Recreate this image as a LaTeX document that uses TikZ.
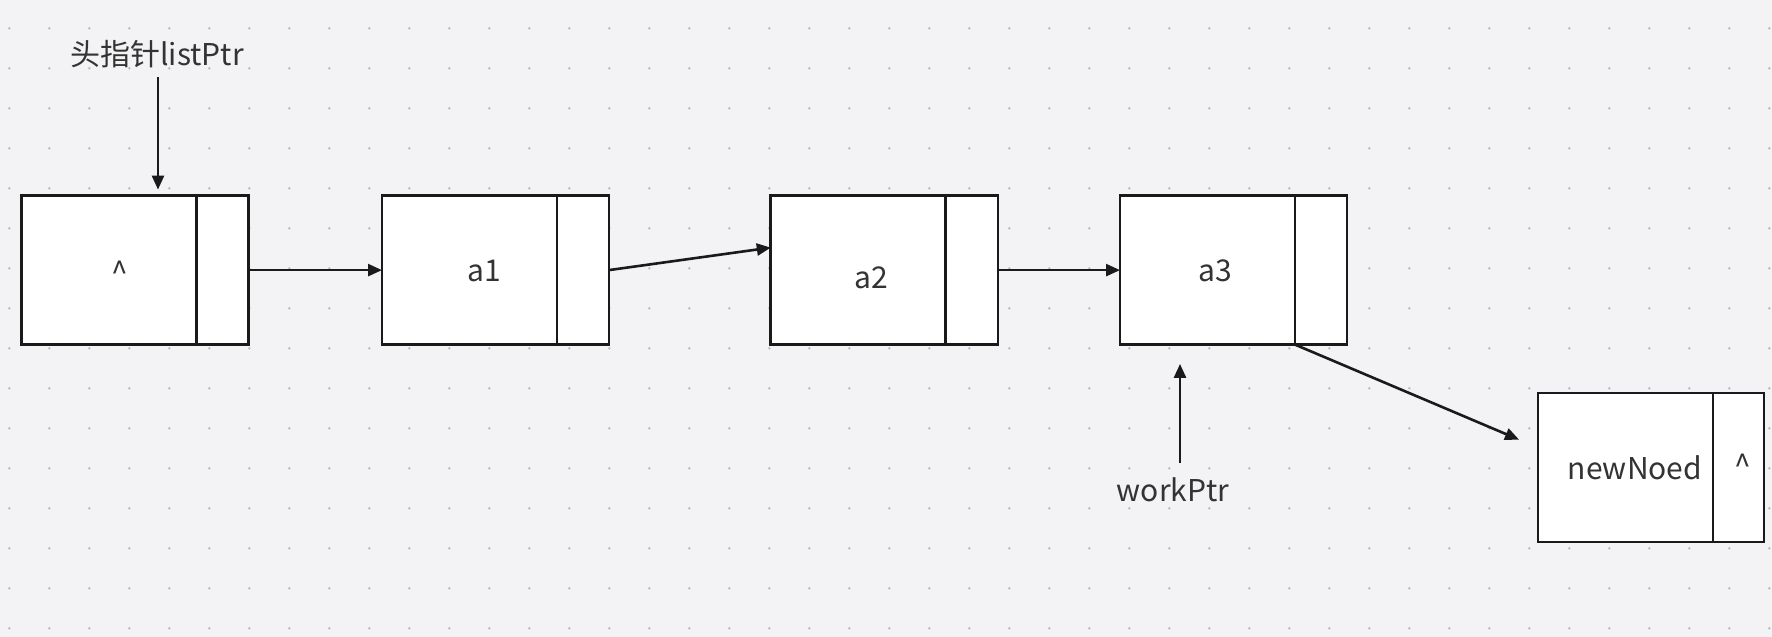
\documentclass[tikz,border=0pt]{standalone}
\usepackage{fontspec}
\setmainfont{Noto Sans CJK SC}
\usetikzlibrary{arrows.meta}
\definecolor{bgc}{HTML}{F3F3F5}
\definecolor{dotc}{HTML}{BEBEC3}
\definecolor{linec}{HTML}{1A1A1A}
\definecolor{txtc}{HTML}{333333}
\tikzset{
  part/.style={draw=linec, line width=2.8pt, fill=white, minimum height=149pt, inner sep=0pt, outer sep=0pt},
  dpart/.style={part, minimum width=175pt},
  ppart/.style={part, minimum width=52pt},
  lbl/.style={font=\fontsize{30}{36}\selectfont, text=txtc, inner sep=0pt},
  arr/.style={draw=linec, line width=2.6pt, -{Triangle[length=14pt,width=12pt]}}
}
\begin{document}
\begin{tikzpicture}[x=1pt,y=-1pt]
\useasboundingbox (0,0) rectangle (1772,637);
\fill[bgc] (0,0) rectangle (1772,637);
\foreach \i in {0,...,44}{
  \foreach \j in {0,...,15}{
    \fill[dotc] (9.3+40*\i, 28.3+40*\j) circle (1.4pt);
  }
}
% boxes
\node[dpart] (n0) at (109.05,270.1) {};
\node[ppart] (n0p) at (222.6,270.1) {};
\node[dpart] (n1) at (469.5,270.1) {};
\node[ppart] (n1p) at (583,270.1) {};
\node[dpart] (n2) at (858.3,270.1) {};
\node[ppart] (n2p) at (971.9,270.1) {};
\node[dpart] (n3) at (1207.5,270.1) {};
\node[ppart] (n3p) at (1321,270.1) {};
\node[dpart] (n4) at (1625.5,467.5) {};
\node[ppart, minimum width=51pt] (n4p) at (1738.5,467.5) {};
% texts
\node[lbl] (t0) at (119.8,272) {\textasciicircum};
\node[lbl] (t1) at (484.7,271) {a1};
\node[lbl] (t2) at (871.5,278) {a2};
\node[lbl] (t3) at (1215.3,271) {a3};
\node[lbl] (t4) at (1635,468) {newNoed};
\node[lbl] (t4p) at (1742.6,465) {\textasciicircum};
\node[lbl] (head) at (157,54) {头指针listPtr};
\node[lbl] (work) at (1173,490) {workPtr};
% connectors
\draw[arr, shorten >=6pt] ([xshift=1pt,yshift=-9pt]head.south) -- ([xshift=1pt]head.south |- n0.north);
\draw[arr] (n0p.east) -- (n1.west);
\draw[arr] (n1p.east) -- ([yshift=22.5pt]n2.west);
\draw[arr] (n2p.east) -- (n3.west);
\draw[arr] (n3p.south west) -- ([xshift=-19pt,yshift=-46.6pt]n4.north west);
\coordinate (wp) at (1180,463);
\draw[arr, shorten >=19.3pt] (wp) -- (wp |- n3.south);
\end{tikzpicture}
\end{document}
